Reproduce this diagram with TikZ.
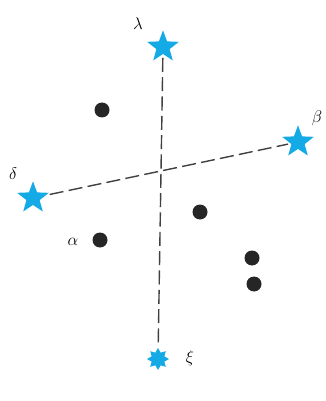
\documentclass[tikz,border=0pt]{standalone}
\usepackage{amsmath}
\usepackage{tikz}
\usetikzlibrary{shapes.geometric}

\definecolor{starblue}{RGB}{20,170,230}

\begin{document}
\begin{tikzpicture}[x=0.03cm,y=-0.03cm,
    bigstar/.style={star,star points=5,star point ratio=2.4,fill=starblue,draw=none,minimum size=1cm,inner sep=0pt},
    burst/.style={star,star points=8,star point ratio=1.6,fill=starblue,draw=none,minimum size=0.66cm,inner sep=0pt},
    dot/.style={circle,fill=black!85,minimum size=0.45cm,inner sep=0pt},
    lbl/.style={inner sep=0pt,font=\Large},
    dashline/.style={dash pattern=on 12pt off 4.5pt,line width=1.2pt,black!75,shorten <=3pt,shorten >=2pt}]
    \useasboundingbox (0,0) rectangle (325,401);
    \node[bigstar] (lambda) at (163,47) {};
    \node[bigstar] (delta) at (33,198) {};
    \node[bigstar] (beta) at (298,142) {};
    \node[burst] (xi) at (158,359) {};
    \node[lbl] (Llambda) at (138,24) {$\lambda$};
    \node[lbl] (Ldelta) at (13,174) {$\delta$};
    \node[lbl] (Lbeta) at (317,118) {$\beta$};
    \node[lbl] (Lxi) at (190,358) {$\xi$};
    \node[dot] (d1) at (102,110) {};
    \node[dot] (d2) at (200,212) {};
    \node[dot] (alpha) at (100,240) {};
    \node[dot] (d4) at (252,258) {};
    \node[dot] (d5) at (254,284) {};
    \node[lbl] (Lalpha) at (73,242) {$\alpha$};
    \draw[dashline] (lambda) -- (xi);
    \draw[dashline] (delta) -- (beta);
\end{tikzpicture}
\end{document}
